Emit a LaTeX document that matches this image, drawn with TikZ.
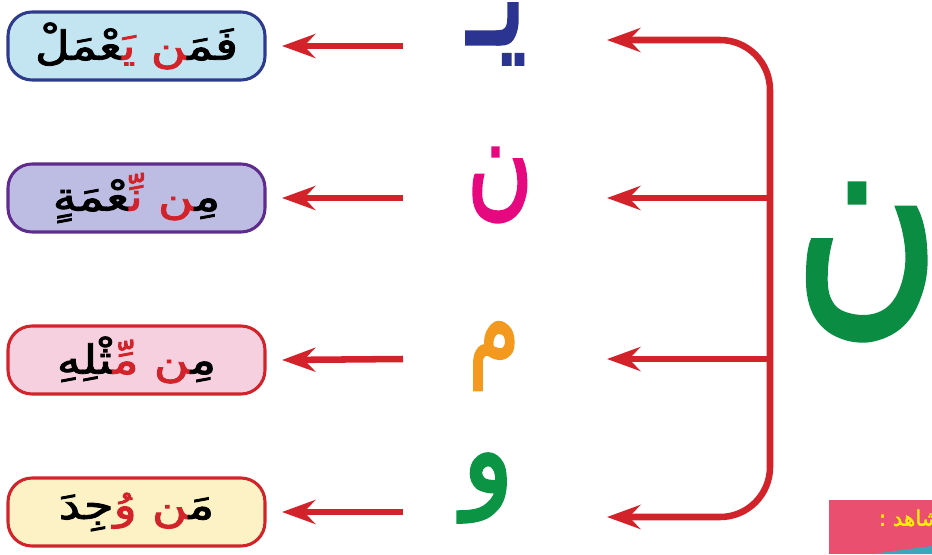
\documentclass[tikz,border=0pt]{standalone}
\usepackage{fontspec}
\usepackage{graphicx}
\usetikzlibrary{arrows.meta}
\TeXXeTstate=1
\newfontfamily\arabicfont[Script=Arabic]{DejaVu Sans}
\newfontfamily\arabicbold[Script=Arabic,FakeBold=2]{DejaVu Sans}

\definecolor{arrowred}{HTML}{D2232A}
\definecolor{bluefill}{HTML}{C3E4F1}
\definecolor{blueline}{HTML}{2E3A8C}
\definecolor{lilacfill}{HTML}{BDBDE3}
\definecolor{lilacline}{HTML}{5F2C8E}
\definecolor{pinkfill}{HTML}{F6D0DF}
\definecolor{creamfill}{HTML}{FCF2C5}
\definecolor{yacol}{HTML}{2B3591}
\definecolor{nooncol}{HTML}{E6087F}
\definecolor{mimcol}{HTML}{F39A1E}
\definecolor{wawcol}{HTML}{0B9444}
\definecolor{bignoon}{HTML}{0A8D42}
\definecolor{pinkbar}{HTML}{EA4F6F}
\definecolor{barteal}{HTML}{3AA6B9}
\definecolor{baryellow}{HTML}{FFEE00}

% joiner, red part; pieces are given left to right as they are seen
\newcommand{\zj}{^^^^200d}
\newcommand{\rd}[1]{\textcolor{arrowred}{#1}}
\newcommand{\wordtext}[1]{\scalebox{1.2}[1]{#1}}

\tikzset{
  wordbox/.style={rounded corners=18pt, line width=2.3pt, minimum width=192.75pt,
    minimum height=51pt, inner sep=0pt, outer xsep=12.75pt,
    font=\arabicbold\fontsize{30}{32}\selectfont},
  letter/.style={inner sep=0pt, font=\arabicbold\fontsize{58}{60}\selectfont},
  arr/.style={draw=arrowred, line width=4.9pt, line cap=butt,
    -{Stealth[length=25pt,width=18pt,inset=8.5pt]}}
}

\begin{document}
\begin{tikzpicture}[x=0.75pt,y=0.75pt,yscale=-1,xscale=1]
\useasboundingbox (0,0) rectangle (932,554);

%Shape: word boxes
\node[wordbox, draw=blueline, fill=bluefill] (boxY) at (136.5,46)
  {\wordtext{{\zj عْمَلْ}\rd{يَ\zj}\ \rd{\zj ن}{فَمَ\zj}}};
\node[wordbox, draw=lilacline, fill=lilacfill] (boxN) at (136.5,198)
  {\wordtext{{\zj عْمَةٍ}\rd{نِّ\zj}\ \rd{\zj ن}{مِ\zj}}};
\node[wordbox, draw=arrowred, fill=pinkfill] (boxM) at (136.5,360)
  {\wordtext{{\zj ثْلِهِ}\rd{مِّ\zj}\ \rd{\zj ن}{مِ\zj}}};
\node[wordbox, draw=arrowred, fill=creamfill] (boxW) at (136.5,512)
  {\wordtext{{جِدَ}\rd{وُ}\ \rd{\zj ن}{مَ\zj}}};

% Text Node: letters
\node[letter, text=yacol] (ya) at (497,34) {\scalebox{1.35}[1.8]{يـ}};
\node[letter, text=nooncol] (noon) at (500,185) {\scalebox{1.17}[1.55]{ن}};
\node[letter, text=mimcol] (mim) at (494,356) {\scalebox{1.08}[1.45]{م}};
\node[letter, text=wawcol] (waw) at (488,488) {\scalebox{1.4}[1.6]{و}};

% Text Node: big letter
\node[inner sep=0pt, text=bignoon, font=\arabicbold\fontsize{150}{150}\selectfont]
  (bigN) at (867,262) {\scalebox{1}[1.25]{ن}};

%Straight Lines: letters to boxes
\coordinate (sY) at (403,46);
\coordinate (sN) at (403,198);
\coordinate (sM) at (403,359);
\coordinate (sW) at (403,512);
\draw[arr] (sY) -- (boxY.east);
\draw[arr] (sN) -- (boxN.east);
\draw[arr] (sM) -- (boxM.east);
\draw[arr] (sW) -- (boxW.east);

%Shape: bracket
\coordinate (spMid) at (770,279);
\coordinate (spTop) at (770,40);
\coordinate (spBot) at (770,517);
\coordinate (spN) at (770,198);
\coordinate (spM) at (770,359);
\coordinate (hY) at (607,40);
\coordinate (hN) at (607,198);
\coordinate (hM) at (607,359);
\coordinate (hW) at (607,517);
\draw[arr, rounded corners=37.5pt] (spMid) -- (spTop) -- (hY);
\draw[arr, rounded corners=37.5pt] (spMid) -- (spBot) -- (hW);
\draw[arr] (spN) -- (hN);
\draw[arr] (spM) -- (hM);

%Shape: corner bar
\begin{scope}
\clip (0,0) rectangle (932,554);
\fill[pinkbar] (829,500) rectangle (932,554);
\fill[barteal] (872,554) -- (932,546) -- (932,554) -- cycle;
\node[inner sep=0pt, anchor=east, text=baryellow, font=\arabicbold\fontsize{16}{18}\selectfont]
  (shahid) at (940,518) {\beginR شاهد :\endR};
\end{scope}

\end{tikzpicture}
\end{document}
